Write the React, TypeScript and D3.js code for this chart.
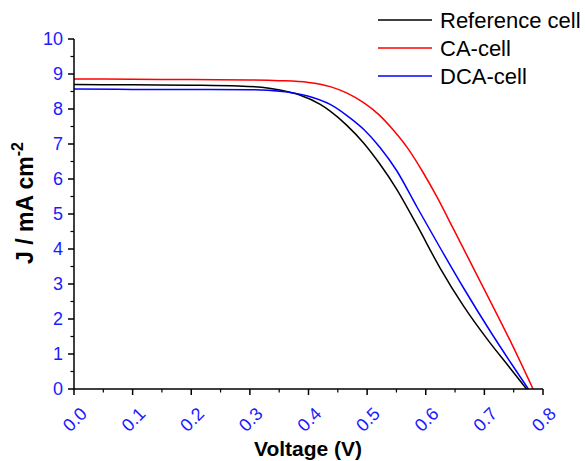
import React from "react";
import * as d3 from "d3";

const refV = [0, 0.1, 0.2, 0.28, 0.32, 0.351, 0.385, 0.42, 0.437, 0.465, 0.494, 0.522, 0.55, 0.585, 0.624, 0.664, 0.71, 0.74, 0.772];
const refJ = [8.70, 8.69, 8.68, 8.66, 8.62, 8.54, 8.40, 8.13, 7.94, 7.54, 7.03, 6.42, 5.72, 4.68, 3.47, 2.38, 1.31, 0.68, 0];

const caV = [0, 0.1, 0.2, 0.3, 0.35, 0.4, 0.437, 0.465, 0.494, 0.52, 0.545, 0.57, 0.595, 0.62, 0.647, 0.675, 0.7, 0.744, 0.783];
const caJ = [8.86, 8.85, 8.84, 8.83, 8.81, 8.76, 8.64, 8.46, 8.18, 7.84, 7.39, 6.86, 6.2, 5.46, 4.58, 3.66, 2.84, 1.38, 0];

const dcaV = [0, 0.1, 0.2, 0.3, 0.351, 0.397, 0.437, 0.465, 0.494, 0.522, 0.55, 0.585, 0.624, 0.664, 0.71, 0.745, 0.775];
const dcaJ = [8.57, 8.56, 8.56, 8.55, 8.51, 8.38, 8.13, 7.82, 7.42, 6.9, 6.25, 5.2, 4.05, 2.9, 1.65, 0.75, 0];

const seriesNames = ["Reference cell", "CA-cell", "DCA-cell"];
const seriesColors = ["#000000", "#ff0000", "#0000ff"];

const xTicks = [0, 0.1, 0.2, 0.3, 0.4, 0.5, 0.6, 0.7, 0.8];
const yTicks = [0, 1, 2, 3, 4, 5, 6, 7, 8, 9, 10];

const W = 585;
const H = 461;
const tickColor = "#1a1aff";
const font = "'Liberation Sans', Arial, sans-serif";

export default function App() {
  const x = d3.scaleLinear().domain([0, 0.8]).range([74, 543]);
  const y = d3.scaleLinear().domain([0, 10]).range([389, 39]);
  const line = d3
    .line<[number, number]>()
    .x((d) => x(d[0]))
    .y((d) => y(d[1]))
    .curve(d3.curveMonotoneX);

  const series = [
    refV.map((v, i) => [v, refJ[i]] as [number, number]),
    caV.map((v, i) => [v, caJ[i]] as [number, number]),
    dcaV.map((v, i) => [v, dcaJ[i]] as [number, number]),
  ];

  const xMinor = xTicks.slice(0, -1).map((t) => t + 0.05);
  const yMinor = yTicks.slice(0, -1).map((t) => t + 0.5);

  return (
    <svg
      width={W}
      height={H}
      style={{ position: "absolute", left: 0, top: 0, background: "#fff" }}
      fontFamily={font}
    >
      <rect x={0} y={0} width={W} height={H} fill="#fff" />
      {series.map((s, i) => (
        <path key={i} d={line(s) || ""} fill="none" stroke={seriesColors[i]} strokeWidth={1.5} />
      ))}
      {/* axes */}
      <line x1={x(0)} x2={x(0.8)} y1={y(0)} y2={y(0)} stroke="#000" strokeWidth={1.5} />
      <line x1={x(0)} x2={x(0)} y1={y(0)} y2={y(10)} stroke="#000" strokeWidth={1.5} />
      {xTicks.map((t) => (
        <g key={"xt" + t}>
          <line x1={x(t)} x2={x(t)} y1={y(0)} y2={y(0) + 6} stroke="#000" strokeWidth={1.5} />
          <text
            transform={`translate(${x(t) + 14},${y(0) + 26}) rotate(-45)`}
            textAnchor="end"
            fontSize={18}
            fill={tickColor}
          >
            {t.toFixed(1)}
          </text>
        </g>
      ))}
      {xMinor.map((t) => (
        <line key={"xm" + t} x1={x(t)} x2={x(t)} y1={y(0)} y2={y(0) + 3.5} stroke="#000" strokeWidth={1.2} />
      ))}
      {yTicks.map((t) => (
        <g key={"yt" + t}>
          <line x1={x(0) - 6} x2={x(0)} y1={y(t)} y2={y(t)} stroke="#000" strokeWidth={1.5} />
          <text x={63} y={y(t)} dy="0.36em" textAnchor="end" fontSize={18} fill={tickColor}>
            {t}
          </text>
        </g>
      ))}
      {yMinor.map((t) => (
        <line key={"ym" + t} x1={x(0) - 3.5} x2={x(0)} y1={y(t)} y2={y(t)} stroke="#000" strokeWidth={1.2} />
      ))}
      {/* axis titles */}
      <text x={308} y={456} textAnchor="middle" fontSize={21} fontWeight="bold" fill="#000">
        Voltage (V)
      </text>
      <text
        transform={`translate(33,203) rotate(-90)`}
        textAnchor="middle"
        fontSize={23}
        fontWeight="bold"
        fill="#000"
      >
        J / mA cm
        <tspan fontSize={16} dy={-10}>-2</tspan>
      </text>
      {/* legend */}
      {seriesNames.map((n, i) => (
        <g key={n}>
          <line x1={378} x2={432} y1={20 + i * 28} y2={20 + i * 28} stroke={seriesColors[i]} strokeWidth={1.5} />
          <text x={440} y={20 + i * 28 + 7.5} fontSize={22} fill="#000">
            {n}
          </text>
        </g>
      ))}
    </svg>
  );
}
